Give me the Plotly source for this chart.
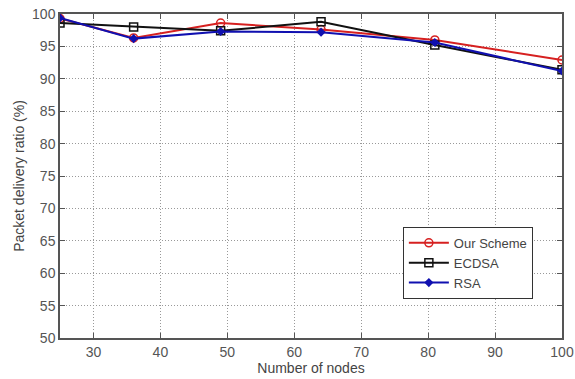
import plotly.graph_objects as go

nodes = [25, 36, 49, 64, 81, 100]
our_scheme = [99.3, 96.3, 98.6, 97.6, 96.0, 92.9]
ecdsa = [98.6, 98.0, 97.4, 98.8, 95.2, 91.4]
rsa = [99.4, 96.2, 97.3, 97.2, 95.6, 91.2]

x_ticks = [30, 40, 50, 60, 70, 80, 90, 100]
y_ticks = [50, 55, 60, 65, 70, 75, 80, 85, 90, 95, 100]

fig = go.Figure()
fig.add_trace(go.Scatter(x=nodes, y=our_scheme, name="Our Scheme", mode="lines+markers",
                         line=dict(color="#d62020", width=2),
                         marker=dict(symbol="circle-open", size=8, color="#d62020", line=dict(width=1.5))))
fig.add_trace(go.Scatter(x=nodes, y=ecdsa, name="ECDSA", mode="lines+markers",
                         line=dict(color="#111111", width=2),
                         marker=dict(symbol="square-open", size=8, color="#111111", line=dict(width=1.5))))
fig.add_trace(go.Scatter(x=nodes, y=rsa, name="RSA", mode="lines+markers",
                         line=dict(color="#1010b0", width=2),
                         marker=dict(symbol="diamond", size=7, color="#1010b0")))

axis_common = dict(showline=True, linecolor="#555555", linewidth=1.5, mirror="ticks",
                   ticks="inside", ticklen=5, tickcolor="#555555",
                   showgrid=True, gridcolor="#999999", griddash="1px,2px", gridwidth=1,
                   zeroline=False, tickfont=dict(size=14, color="#555555"), automargin=False)

fig.update_xaxes(range=[25, 100], tickvals=x_ticks, title=dict(text="Number of nodes", font=dict(size=14, color="#444444"), standoff=2), **axis_common)
fig.update_yaxes(range=[50, 100], tickvals=y_ticks, title=dict(text="Packet delivery ratio (%)", font=dict(size=14, color="#444444"), standoff=4), **axis_common)

fig.update_layout(
    width=575, height=379,
    margin=dict(l=60, r=13, t=14, b=41),
    paper_bgcolor="white", plot_bgcolor="white",
    font=dict(family="Liberation Sans, Arial, sans-serif", color="#333333"),
    legend=dict(x=0.683, y=0.343, xanchor="left", yanchor="top",
                bordercolor="#333333", borderwidth=1, bgcolor="white",
                font=dict(size=13, color="#444444"), tracegroupgap=0, itemwidth=40),
    showlegend=True,
)

fig.write_html("out.html", config={"displayModeBar": False},
               post_script="document.body.style.margin='0';document.body.style.overflow='hidden';")
